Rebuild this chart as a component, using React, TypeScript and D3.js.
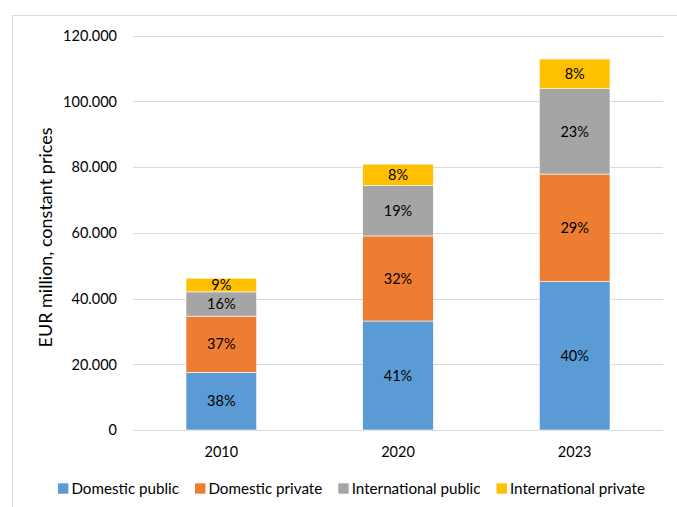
import React, { useEffect, useRef } from "react";
import * as d3 from "d3";

// Years on the category axis
const years = ["2010", "2020", "2023"];
// Funding sources, bottom to top of each stack
const seriesNames = [
  "Domestic public",
  "Domestic private",
  "International public",
  "International private",
];
const seriesColors = ["#5B9BD5", "#ED7D31", "#A5A5A5", "#FFC000"];
// Total funding per year, EUR million at constant prices
const totals = [46200, 80900, 112900];
// Share of each source in the yearly total, in percent
const domesticPublic = [38, 41, 40];
const domesticPrivate = [37, 32, 29];
const internationalPublic = [16, 19, 23];
const internationalPrivate = [9, 8, 8];
// Value axis ticks
const yTicks = [0, 20000, 40000, 60000, 80000, 100000, 120000];

const W = 677;
const H = 507;
const FONT = "Lato, 'Open Sans', sans-serif";
const FS = 14.5;
const FS_LEGEND = 15.2;
const FS_TITLE = 18;
const TEXT = "#000";
const GRID = "#D9D9D9";

export default function App() {
  const ref = useRef<SVGSVGElement>(null);

  useEffect(() => {
    const svg = d3.select(ref.current);
    svg.selectAll("*").remove();

    const shares = [domesticPublic, domesticPrivate, internationalPublic, internationalPrivate];
    const rows = years.map((year, i) => {
      const row: any = { year };
      seriesNames.forEach((name, s) => {
        row[name] = (totals[i] * shares[s][i]) / 100;
        row[name + "_pct"] = shares[s][i];
      });
      return row;
    });

    const stack = d3.stack<any>().keys(seriesNames);
    const layers = stack(rows);

    const x = d3.scaleBand<string>().domain(years).range([133, 663]).padding(0);
    const y = d3.scaleLinear().domain([0, 120000]).range([430, 35.7]);
    const barW = x.bandwidth() * 0.4;

    const locale = d3.formatLocale({
      decimal: ",",
      thousands: ".",
      grouping: [3],
      currency: ["", "€"],
    });
    const fmt = locale.format(",");

    // Chart frame
    svg
      .append("rect")
      .attr("x", 12.5)
      .attr("y", 15.5)
      .attr("width", 720)
      .attr("height", 540)
      .attr("fill", "none")
      .attr("stroke", GRID)
      .attr("stroke-width", 1);

    // Horizontal gridlines and tick labels
    const grid = svg.append("g");
    yTicks.forEach((t) => {
      const yy = Math.round(y(t)) + 0.5;
      grid
        .append("line")
        .attr("x1", 133)
        .attr("x2", 663)
        .attr("y1", yy)
        .attr("y2", yy)
        .attr("stroke", GRID)
        .attr("stroke-width", 1);
      grid
        .append("text")
        .attr("x", 117)
        .attr("y", y(t))
        .attr("dy", "0.36em")
        .attr("text-anchor", "end")
        .attr("font-family", FONT)
        .attr("font-size", FS)
        .attr("fill", TEXT)
        .text(fmt(t));
    });

    // Stacked bars
    const bars = svg.append("g");
    layers.forEach((layer, s) => {
      layer.forEach((d) => {
        const cx = (x(d.data.year) as number) + x.bandwidth() / 2;
        const y0 = y(d[0]);
        const y1 = y(d[1]);
        bars
          .append("rect")
          .attr("x", cx - barW / 2)
          .attr("y", y1)
          .attr("width", barW)
          .attr("height", y0 - y1)
          .attr("fill", seriesColors[s])
          .attr("stroke", "#fff")
          .attr("stroke-width", 0.6);
        bars
          .append("text")
          .attr("x", cx)
          .attr("y", (y0 + y1) / 2)
          .attr("dy", "0.36em")
          .attr("text-anchor", "middle")
          .attr("font-family", FONT)
          .attr("font-size", FS)
          .attr("fill", TEXT)
          .text(`${d.data[seriesNames[s] + "_pct"]}%`);
      });
    });

    // Category labels
    years.forEach((yr) => {
      svg
        .append("text")
        .attr("x", (x(yr) as number) + x.bandwidth() / 2)
        .attr("y", 452)
        .attr("dy", "0.36em")
        .attr("text-anchor", "middle")
        .attr("font-family", FONT)
        .attr("font-size", FS)
        .attr("fill", TEXT)
        .text(yr);
    });

    // Value axis title
    svg
      .append("text")
      .attr("transform", "translate(46,237.5) rotate(-90)")
      .attr("dy", "0.36em")
      .attr("text-anchor", "middle")
      .attr("font-family", FONT)
      .attr("font-size", FS_TITLE)
      .attr("fill", TEXT)
      .text("EUR million, constant prices");

    // Legend, centred under the frame
    const legend = svg.append("g");
    const items = seriesNames.map((name, s) => {
      const g = legend.append("g");
      g.append("rect")
        .attr("x", 0)
        .attr("y", -5.2)
        .attr("width", 10.4)
        .attr("height", 10.4)
        .attr("fill", seriesColors[s]);
      const t = g
        .append("text")
        .attr("x", 13.4)
        .attr("y", 0)
        .attr("dy", "0.36em")
        .attr("font-family", FONT)
        .attr("font-size", FS_LEGEND)
        .attr("fill", TEXT)
        .text(name);
      const w = 13.4 + (t.node() as SVGTextElement).getComputedTextLength();
      return { g, w };
    });
    const gap = 16;
    const total = d3.sum(items, (d) => d.w) + gap * (items.length - 1);
    let cursor = 351.5 - total / 2;
    items.forEach(({ g, w }) => {
      g.attr("transform", `translate(${cursor},488.5)`);
      cursor += w + gap;
    });
  }, []);

  return (
    <svg
      ref={ref}
      width={W}
      height={H}
      style={{ position: "absolute", left: 0, top: 0, background: "#fff" }}
    />
  );
}
